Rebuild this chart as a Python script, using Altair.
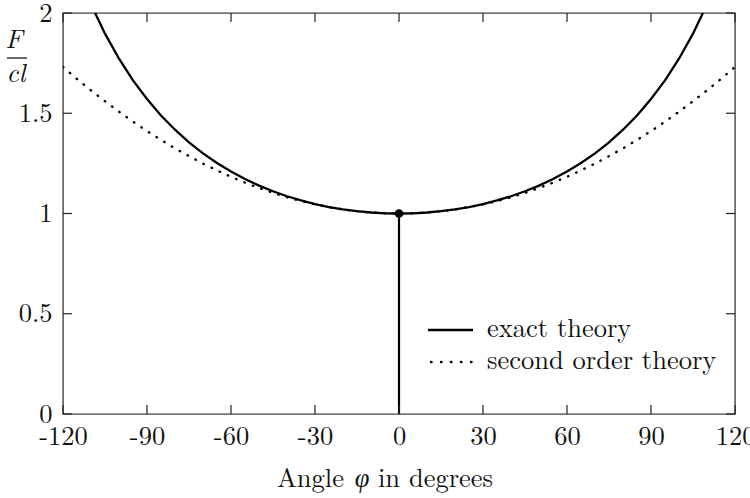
import altair as alt
import pandas as pd

# ---- data ----
exact_angle = [-110, -105, -100, -95, -90, -85, -80, -75, -70, -65, -60, -55, -50, -45, -40, -35, -30, -25, -20, -15, -10, -5,
               0, 5, 10, 15, 20, 25, 30, 35, 40, 45, 50, 55, 60, 65, 70, 75, 80, 85, 90, 95, 100, 105, 110]
exact_val = [2.043, 1.897, 1.772, 1.664, 1.571, 1.489, 1.418, 1.355, 1.300, 1.252, 1.209, 1.172, 1.139, 1.111, 1.086, 1.065, 1.047, 1.032, 1.021, 1.012, 1.005, 1.001,
             1.000, 1.001, 1.005, 1.012, 1.021, 1.032, 1.047, 1.065, 1.086, 1.111, 1.139, 1.172, 1.209, 1.252, 1.300, 1.355, 1.418, 1.489, 1.571, 1.664, 1.772, 1.897, 2.043]

second_angle = [-120, -115, -110, -105, -100, -95, -90, -85, -80, -75, -70, -65, -60, -55, -50, -45, -40, -35, -30, -25, -20, -15, -10, -5,
                0, 5, 10, 15, 20, 25, 30, 35, 40, 45, 50, 55, 60, 65, 70, 75, 80, 85, 90, 95, 100, 105, 110, 115, 120]
second_val = [1.731, 1.671, 1.614, 1.560, 1.508, 1.458, 1.411, 1.367, 1.325, 1.286, 1.249, 1.215, 1.183, 1.154, 1.127, 1.103, 1.081, 1.062, 1.046, 1.032, 1.020, 1.011, 1.005, 1.001,
              1.000, 1.001, 1.005, 1.011, 1.020, 1.032, 1.046, 1.062, 1.081, 1.103, 1.127, 1.154, 1.183, 1.215, 1.249, 1.286, 1.325, 1.367, 1.411, 1.458, 1.508, 1.560, 1.614, 1.671, 1.731]

marker_angle = [0]
marker_val = [1]

x_ticks = [-120, -90, -60, -30, 0, 30, 60, 90, 120]
y_ticks = [0, 0.5, 1, 1.5, 2]

legend_labels = ["exact theory", "second order theory"]

# ---- chart ----
W, H = 672, 401
FONT = "Latin Modern Roman"
FS = 26.5

exact_df = pd.DataFrame({"x": exact_angle, "y": exact_val})
second_df = pd.DataFrame({"x": second_angle, "y": second_val})
marker_df = pd.DataFrame({"x": marker_angle, "y": marker_val, "y0": [0]})
xt_df = pd.DataFrame({"x": x_ticks})
yt_df = pd.DataFrame({"y": y_ticks})
one = pd.DataFrame({"a": [0]})

xscale = alt.Scale(domain=[-120, 120], nice=False, zero=False)
yscale = alt.Scale(domain=[0, 2], nice=False, zero=False)
xaxis = alt.Axis(values=x_ticks, domain=False, ticks=False, grid=False, title=None,
                 labelFont=FONT, labelFontSize=FS, labelColor="#111", labelPadding=9,
                 labelExpr="datum.value + ''", labelFlush=False, labelOverlap=False)
yaxis = alt.Axis(values=y_ticks, domain=False, ticks=False, grid=False, title=None,
                 labelFont=FONT, labelFontSize=FS, labelColor="#111", labelPadding=11,
                 format="~g", labelFlush=False, labelOverlap=False)

X = lambda f="x": alt.X(f"{f}:Q", scale=xscale, axis=xaxis)
Y = lambda f="y": alt.Y(f"{f}:Q", scale=yscale, axis=yaxis)

exact = alt.Chart(exact_df).mark_line(color="black", strokeWidth=2.3, clip=True).encode(x=X(), y=Y())
second = alt.Chart(second_df).mark_line(color="black", strokeWidth=2.4, strokeDash=[0.5, 8.5],
                                        strokeCap="round", clip=True).encode(x=X(), y=Y())
vline = alt.Chart(marker_df).mark_rule(color="black", strokeWidth=2.2).encode(
    x=X(), y=Y("y0"), y2="y:Q")
dot = alt.Chart(marker_df).mark_circle(color="black", size=75, opacity=1).encode(x=X(), y=Y())

tcol = "#222"
tick_b = alt.Chart(xt_df).mark_rule(color=tcol, strokeWidth=1.2).encode(
    x=X(), y=alt.value(H), y2=alt.value(H - 9))
tick_t = alt.Chart(xt_df).mark_rule(color=tcol, strokeWidth=1.2).encode(
    x=X(), y=alt.value(0), y2=alt.value(9))
tick_l = alt.Chart(yt_df).mark_rule(color=tcol, strokeWidth=1.2).encode(
    y=Y(), x=alt.value(0), x2=alt.value(9))
tick_r = alt.Chart(yt_df).mark_rule(color=tcol, strokeWidth=1.2).encode(
    y=Y(), x=alt.value(W), x2=alt.value(W - 9))

def txt(s, x, y, align="left", italic=False, baseline="alphabetic"):
    return alt.Chart(one).mark_text(text=s, font=FONT, fontSize=FS, color="#111", align=align,
                                    baseline=baseline, fontStyle="italic" if italic else "normal").encode(
        x=alt.value(x), y=alt.value(y))

# y title as fraction F / cl
yt_F = txt("F", -49, 35, align="center", italic=True)
yt_bar = alt.Chart(one).mark_rule(color="black", strokeWidth=1.2).encode(
    x=alt.value(-56), x2=alt.value(-36), y=alt.value(45), y2=alt.value(45))
yt_cl = txt("cl", -47, 69, align="center", italic=True)

# x title
xt1 = txt("Angle", 281, 474, align="right")
xt2 = txt("φ", 299, 474, align="center", italic=True)
xt3 = txt("in degrees", 315, 474, align="left")

# legend
leg1 = alt.Chart(one).mark_rule(color="black", strokeWidth=2.3).encode(
    x=alt.value(365), x2=alt.value(410), y=alt.value(317), y2=alt.value(317))
leg2 = alt.Chart(one).mark_rule(color="black", strokeWidth=2.4, strokeDash=[0.5, 9.5], strokeCap="round").encode(
    x=alt.value(368), x2=alt.value(410), y=alt.value(349), y2=alt.value(349))
legt1 = txt(legend_labels[0], 424, 324)
legt2 = txt(legend_labels[1], 424, 356)

chart = alt.layer(
    exact, second, vline, dot, tick_b, tick_t, tick_l, tick_r,
    yt_F, yt_bar, yt_cl, xt1, xt2, xt3, leg1, leg2, legt1, legt2
).properties(
    width=W, height=H,
    autosize=alt.AutoSizeParams(type="none"),
    padding={"left": 63, "top": 13, "right": 15, "bottom": 84},
    background="white",
).configure_view(stroke="#444", strokeWidth=1.4)

chart.save("out.html", embed_options={"renderer": "svg", "actions": False})
